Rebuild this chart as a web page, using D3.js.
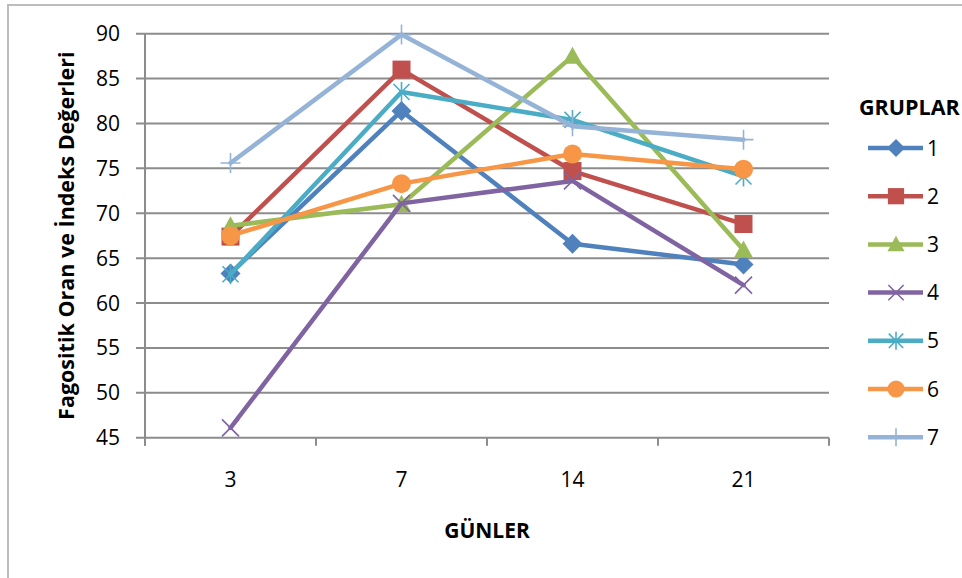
<!DOCTYPE html>
<html>
<head>
<meta charset="utf-8">
<script src="https://cdn.jsdelivr.net/npm/d3@7"></script>
<style>
  html, body { margin: 0; padding: 0; background: #fff; }
  svg { display: block; }
  text { font-family: "Open Sans", "Liberation Sans", sans-serif; fill: #000; }
</style>
</head>
<body>
<svg id="chart" width="962" height="578"></svg>
<script>
// Days of measurement (x categories)
const days = ["3", "7", "14", "21"];
// Group names
const groups = ["1", "2", "3", "4", "5", "6", "7"];
// Values per group, one per day
const g1 = [63.3, 81.4, 66.6, 64.3];
const g2 = [67.4, 86.0, 74.7, 68.8];
const g3 = [68.6, 71.0, 87.5, 65.9];
const g4 = [46.1, 71.1, 73.6, 62.0];
const g5 = [63.2, 83.5, 80.4, 74.1];
const g6 = [67.5, 73.3, 76.6, 74.9];
const g7 = [75.6, 89.9, 79.7, 78.2];
const yTicks = [45, 50, 55, 60, 65, 70, 75, 80, 85, 90];

const seriesValues = [g1, g2, g3, g4, g5, g6, g7];
const colors = ["#4F81BD", "#C0504D", "#9BBB59", "#8064A2", "#4BACC6", "#F79646", "#95B3D7"];
const markers = ["diamond", "square", "triangle", "x", "star", "circle", "plus"];

const svg = d3.select("#chart");

// Outer chart frame
svg.append("rect")
  .attr("x", 8).attr("y", 5).attr("width", 1100).attr("height", 1100)
  .attr("fill", "none").attr("stroke", "#bdbdbd").attr("stroke-width", 2);

const plot = { left: 145, right: 829, top: 33.7, bottom: 437.7 };

const x = d3.scaleBand().domain(days).range([plot.left, plot.right]).padding(0);
const y = d3.scaleLinear().domain([45, 90]).range([plot.bottom, plot.top]);

const gridColor = "#8c8c8c";

// Horizontal gridlines with short tick stubs on the left
svg.append("g").selectAll("line").data(yTicks).join("line")
  .attr("x1", plot.left - 9).attr("x2", plot.right)
  .attr("y1", d => y(d)).attr("y2", d => y(d))
  .attr("stroke", gridColor).attr("stroke-width", 2);

// Y axis line
svg.append("line")
  .attr("x1", plot.left).attr("x2", plot.left)
  .attr("y1", plot.top).attr("y2", plot.bottom + 8)
  .attr("stroke", gridColor).attr("stroke-width", 2);

// X axis tick marks at category boundaries
const edges = days.map(d => x(d)).concat([x(days[days.length - 1]) + x.bandwidth()]);
svg.append("g").selectAll("line").data(edges).join("line")
  .attr("x1", d => d).attr("x2", d => d)
  .attr("y1", plot.bottom).attr("y2", plot.bottom + 8)
  .attr("stroke", gridColor).attr("stroke-width", 2);

// Y tick labels
svg.append("g").selectAll("text").data(yTicks).join("text")
  .attr("x", 120).attr("y", d => y(d))
  .attr("dy", "0.36em")
  .attr("text-anchor", "end")
  .style("font-size", "21px")
  .text(d => d);

// X tick labels
svg.append("g").selectAll("text").data(days).join("text")
  .attr("x", d => x(d) + x.bandwidth() / 2).attr("y", 487)
  .attr("text-anchor", "middle")
  .style("font-size", "21px")
  .text(d => d);

// Axis titles
svg.append("text")
  .attr("x", 487).attr("y", 538)
  .attr("text-anchor", "middle")
  .style("font-size", "21px").style("font-weight", "bold")
  .text("GÜNLER");

svg.append("text")
  .attr("transform", `translate(74, ${(plot.top + plot.bottom) / 2}) rotate(-90)`)
  .attr("text-anchor", "middle")
  .style("font-size", "21.5px").style("font-weight", "bold")
  .text("Fagositik Oran ve İndeks Değerleri");

// Marker drawing
function drawMarker(g, type, color, cx, cy, s) {
  const h = s / 2;
  if (type === "diamond") {
    g.append("path").attr("d", `M${cx},${cy - h}L${cx + h},${cy}L${cx},${cy + h}L${cx - h},${cy}Z`)
      .attr("fill", color);
  } else if (type === "square") {
    const a = h * 0.9;
    g.append("rect").attr("x", cx - a).attr("y", cy - a).attr("width", 2 * a).attr("height", 2 * a)
      .attr("fill", color);
  } else if (type === "triangle") {
    const a = h * 0.95;
    g.append("path").attr("d", `M${cx},${cy - a}L${cx + a},${cy + a * 0.8}L${cx - a},${cy + a * 0.8}Z`)
      .attr("fill", color);
  } else if (type === "circle") {
    g.append("circle").attr("cx", cx).attr("cy", cy).attr("r", h * 0.95).attr("fill", color);
  } else if (type === "x") {
    const a = h * 0.85;
    g.append("path").attr("d", `M${cx - a},${cy - a}L${cx + a},${cy + a}M${cx - a},${cy + a}L${cx + a},${cy - a}`)
      .attr("stroke", color).attr("stroke-width", 1.6).attr("fill", "none");
  } else if (type === "star") {
    const a = h * 0.8;
    g.append("path").attr("d", `M${cx - a},${cy - a}L${cx + a},${cy + a}M${cx - a},${cy + a}L${cx + a},${cy - a}M${cx},${cy - h}L${cx},${cy + h}`)
      .attr("stroke", color).attr("stroke-width", 1.6).attr("fill", "none");
  } else if (type === "plus") {
    g.append("path").attr("d", `M${cx - h},${cy}L${cx + h},${cy}M${cx},${cy - h}L${cx},${cy + h}`)
      .attr("stroke", color).attr("stroke-width", 1.6).attr("fill", "none");
  }
}

const line = d3.line()
  .x((d, i) => x(days[i]) + x.bandwidth() / 2)
  .y(d => y(d));

const seriesLayer = svg.append("g");
seriesValues.forEach((vals, si) => {
  const g = seriesLayer.append("g");
  g.append("path").datum(vals)
    .attr("d", line)
    .attr("fill", "none")
    .attr("stroke", colors[si])
    .attr("stroke-width", 4.5)
    .attr("stroke-linejoin", "round")
    .attr("stroke-linecap", "round");
  vals.forEach((v, i) => {
    drawMarker(g, markers[si], colors[si], x(days[i]) + x.bandwidth() / 2, y(v), 20);
  });
});

// Legend
const legend = svg.append("g");
legend.append("text")
  .attr("x", 859).attr("y", 115)
  .style("font-size", "21.5px").style("font-weight", "bold")
  .text("GRUPLAR");

groups.forEach((name, i) => {
  const cy = 148 + i * 48.2;
  const g = legend.append("g");
  g.append("line").attr("x1", 868).attr("x2", 923).attr("y1", cy).attr("y2", cy)
    .attr("stroke", colors[i]).attr("stroke-width", 4.5);
  drawMarker(g, markers[i], colors[i], 896, cy, 18);
  g.append("text").attr("x", 927).attr("y", cy).attr("dy", "0.36em")
    .style("font-size", "21px")
    .text(name);
});
</script>
</body>
</html>
